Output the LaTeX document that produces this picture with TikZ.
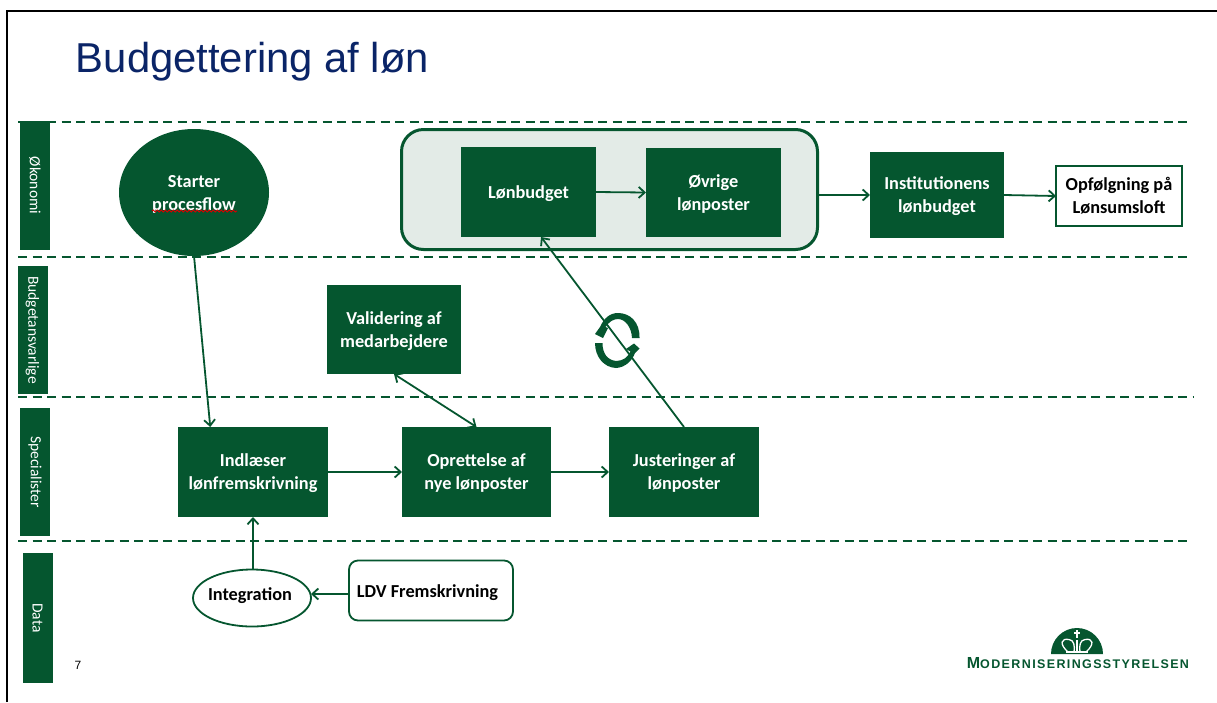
\documentclass[tikz,border=0pt]{standalone}
\usepackage{fontspec}
\setmainfont{Carlito}
\newfontfamily\titlefont{Liberation Sans}
\newfontfamily\logofont[LetterSpace=11]{Liberation Sans Bold}
\usetikzlibrary{arrows.meta,calc,decorations.pathmorphing,shapes.geometric}
\definecolor{lonGreen}{HTML}{05562F}
\definecolor{lonPale}{HTML}{E3EBE7}
\definecolor{lonTitle}{HTML}{0A2467}
\tikzset{
	lon diagram/.style={x=1pt, y=-1pt, line width=1.8pt, draw=lonGreen,
		>={Straight Barb[length=6pt,width=11pt]}},
	ar/.style={draw=lonGreen, ->, line width=1.8pt},
	lane/.style={draw=lonGreen, line width=1.8pt, dash pattern=on 9pt off 5.5pt},
	lane name/.style={fill=lonGreen, text=white, font=\fontsize{15.5}{18}\selectfont,
		rotate=-90, inner sep=0pt, outer sep=0pt, minimum width=#1, minimum height=30pt},
	step text/.style={inner sep=0pt, outer sep=0pt, align=center, text height=17pt, text depth=5pt,
		font=\fontsize{18.3}{23}\selectfont\bfseries},
	two lines/.style={text height=40pt},
	step box/.style 2 args={step text, fill=lonGreen, text=white, minimum width=#1, minimum height=#2},
	open box/.style 2 args={step box={#1}{#2}, fill=white, text=black, draw=lonGreen, line width=1.8pt}
}
\begin{document}
\begin{tikzpicture}[lon diagram]
  \useasboundingbox (0,0) rectangle (1217,702);
  \draw[black, line width=2pt] (7,702) |- (1217,11);
  \node[anchor=west, inner sep=0pt, text=lonTitle, font=\titlefont\fontsize{41.8}{46}\selectfont] (title) at (75,62) {Budgettering af løn};

  % lanes
  \draw[lane] (18,122) coordinate (laneA) -- (1190,122);
  \draw[lane] (18,257) coordinate (laneB) -- (1190,257);
  \draw[lane] (18,397) coordinate (laneC) -- (1193,397);
  \draw[lane] (18,541) coordinate (laneD) -- (1190,541);
  \node[lane name=129pt] (okonomi) at (35,185.5) {Økonomi};
  \node[lane name=128pt] (budget) at (32.5,330) {Budgetansvarlige};
  \node[lane name=128pt] (special) at (35,472) {Specialister};
  \node[lane name=130pt] (data) at (37.5,618) {Data};

  % boxes
  \node[step box={150pt}{127pt}, two lines, ellipse] (start) at (194,192.5) {Starter\\procesflow};
  \node[draw=lonGreen, fill=lonPale, line width=3pt, rounded corners=22pt, minimum width=416pt, minimum height=120pt, inner sep=0pt, outer sep=0pt] (group) at (609.5,189.5) {};
  \node[step box={135pt}{90pt}] (lonbudget) at (528.5,192) {Lønbudget};
  \node[step box={135pt}{89pt}, two lines] (ovrige) at (713.5,192.5) {Øvrige\\lønposter};
  \node[step box={134pt}{86pt}, two lines] (inst) at (937,195) {Institutionens\\lønbudget};
  \node[open box={126pt}{60pt}, two lines] (opf) at (1119,196) {Opfølgning på\\Lønsumsloft};
  \node[step box={134pt}{89pt}, two lines] (valid) at (394,329.5) {Validering af\\medarbejdere};
  \node[step box={150pt}{90pt}, two lines] (indl) at (253,472) {Indlæser\\lønfremskrivning};
  \node[step box={149pt}{90pt}, two lines] (opret) at (476.5,472) {Oprettelse af\\nye lønposter};
  \node[step box={150pt}{90pt}, two lines] (juster) at (684,472) {Justeringer af\\lønposter};
  \node[open box={118pt}{57pt}, ellipse] (integ) at (252,598) {};
  \node[step text] (integtext) at (250,594) {Integration};
  \node[open box={164pt}{60pt}, rounded corners=9pt] (ldv) at (431,590.5) {};
  \node[step text] (ldvtext) at (427.5,591) {LDV Fremskrivning};
  \node[inner sep=0pt, font=\titlefont\fontsize{12}{14}\selectfont] (pagenum) at (78,665) {7};

  % connectors
  \draw[ar] (start.south) -- ($(indl.north west)!.215!(indl.north east)$);
  \draw[ar] (lonbudget.east) -- (ovrige.west);
  \draw[ar] (group.east |- inst.west) -- (inst.west);
  \draw[ar] (inst.east) -- (opf.west);
  \draw[ar, <->] (valid.south) -- (opret.north);
  \draw[ar] (indl.east) -- (opret.west);
  \draw[ar] (opret.east) -- (juster.west);
  \draw[ar] (juster.north) -- ($(lonbudget.south west)!.593!(lonbudget.south east)$);
  \draw[ar] (integ.north -| indl.south) -- (indl.south);
  \draw[ar] (ldv.west |- integtext) -- (integ.east |- integtext);

  % spelling mark under procesflow
  \draw[red!85!black, line width=.9pt, decorate, decoration={snake, amplitude=1pt, segment length=4pt}] (152,211) -- (237,211);

  % cycle sign
  \fill[lonGreen] (639.5,338) .. controls (640,322) and (630,313) .. (618,313) .. controls (610,313) and (604,318) .. (600,327)
     -- (595,334) -- (603,338) -- (608,328) -- (605.5,327) .. controls (609,322) and (613,319) .. (618,319) .. controls (625,319) and (631.5,327) .. (632,338) -- cycle;
  \fill[lonGreen] (595,343) .. controls (595,357) and (604,367.5) .. (616,368) .. controls (625,367.5) and (632,361) .. (635,353)
     -- (639.5,348.5) -- (634,343.5) -- (626,349) -- (630.5,351.5) .. controls (628,357) and (623,361) .. (616,361) .. controls (607,360) and (602.5,353) .. (602.5,343) -- cycle;

  % logo
  \fill[lonGreen] (1051,654) arc[start angle=180, end angle=0, radius=26pt] -- cycle;
  \draw[white, line width=1.3pt] (1068,652) .. controls (1059,644) and (1061,638) .. (1069,639.5) .. controls (1074,640) and (1075,646) .. (1074,652);
  \draw[white, line width=1.3pt] (1086,652) .. controls (1095,644) and (1093,638) .. (1085,639.5) .. controls (1080,640) and (1079,646) .. (1080,652);
  \draw[white, line width=1.3pt] (1077,640) -- (1077,652) (1066,652) -- (1088,652) (1077,630) -- (1077,638) (1074,633) -- (1080,633);
  \node[anchor=west, inner sep=0pt, text=lonGreen, font=\logofont] (logo) at (966,663.5) {\fontsize{16}{16}\selectfont M\fontsize{12.5}{16}\selectfont ODERNISERINGSSTYRELSEN};
\end{tikzpicture}
\end{document}
